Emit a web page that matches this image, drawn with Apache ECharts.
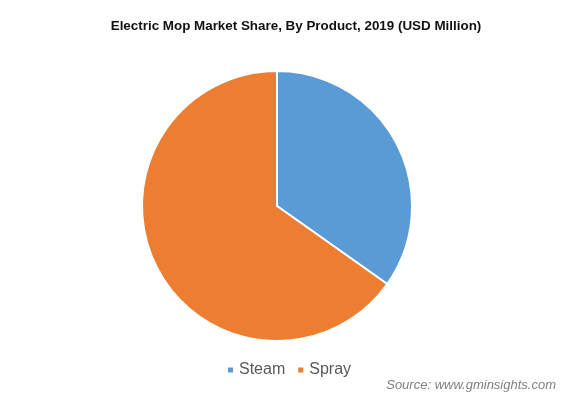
<!DOCTYPE html>
<html><head><meta charset="utf-8">
<script src="https://cdn.jsdelivr.net/npm/echarts@6/dist/echarts.min.js"></script>
<style>html,body{margin:0;padding:0;background:#fff}#c{width:567px;height:399px}</style>
</head><body><div id="c"></div>
<script>
const categories = ["Steam", "Spray"];
const values = [34.8, 65.2];
const colors = ["#5b9bd5", "#ed7d31"];

const chart = echarts.init(document.getElementById('c'), null, {renderer: 'canvas'});
chart.setOption({
  animation: false,
  color: colors,
  title: [{
    text: 'Electric Mop Market Share, By Product, 2019 (USD Million)',
    left: 291, top: 15, textAlign: 'center',
    textStyle: {fontFamily: 'Liberation Sans, Arial', fontWeight: 'bold', fontSize: 13.4, color: '#111'}
  }, {
    text: 'Source: www.gminsights.com',
    right: 6, top: 374,
    textStyle: {fontFamily: 'Liberation Sans, Arial', fontStyle: 'italic', fontWeight: 'normal', fontSize: 13, color: '#7f7f7f'}
  }],
  legend: {
    data: categories,
    left: 221, top: 357,
    icon: 'rect', itemWidth: 7, itemHeight: 7, itemGap: 11,
    textStyle: {fontFamily: 'Liberation Sans, Arial', fontSize: 16, color: '#595959'}
  },
  series: [{
    type: 'pie',
    center: [277, 206],
    radius: [0, 135],
    startAngle: 90,
    clockwise: true,
    label: {show: false},
    labelLine: {show: false},
    itemStyle: {borderColor: '#fff', borderWidth: 2},
    emphasis: {disabled: true},
    data: categories.map((c, i) => ({name: c, value: values[i]}))
  }]
});
</script></body></html>
